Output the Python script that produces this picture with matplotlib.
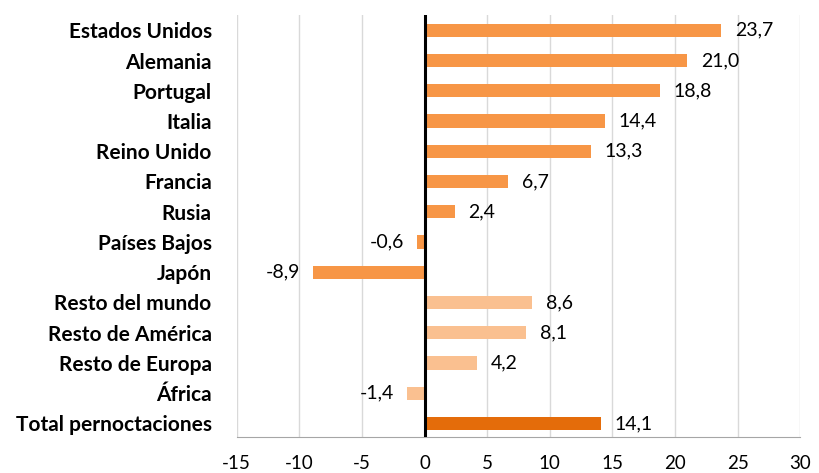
import matplotlib
matplotlib.use("Agg")
import matplotlib.pyplot as plt

plt.rcParams['font.family'] = ['Lato', 'DejaVu Sans']

paises = ['Estados Unidos', 'Alemania', 'Portugal', 'Italia', 'Reino Unido',
          'Francia', 'Rusia', 'Países Bajos', 'Japón', 'Resto del mundo',
          'Resto de América', 'Resto de Europa', 'África', 'Total pernoctaciones']
valores = [23.7, 21.0, 18.8, 14.4, 13.3, 6.7, 2.4, -0.6, -8.9, 8.6, 8.1, 4.2, -1.4, 14.1]
# tipo de barra: 0 pais, 1 resto, 2 total
grupo = [0, 0, 0, 0, 0, 0, 0, 0, 0, 1, 1, 1, 1, 2]
ticks_x = [-15, -10, -5, 0, 5, 10, 15, 20, 25, 30]

colores = {0: '#F79646', 1: '#FAC090', 2: '#E46C0A'}

fig = plt.figure(figsize=(8.19, 4.73), dpi=100)
ax = fig.add_axes([0.289, 0.076, 0.688, 0.892])

pos = list(range(len(paises)))
ax.barh(pos, valores, height=0.44, color=[colores[g] for g in grupo], zorder=3)

for y, v in zip(pos, valores):
    txt = f"{v:.1f}".replace('.', ',')
    if v >= 0:
        ax.text(v + 1.1, y, txt, va='center', ha='left', fontsize=14, color='black')
    else:
        ax.text(v - 1.0, y, txt, va='center', ha='right', fontsize=14, color='black')

ax.set_xlim(-15, 30)
ax.set_ylim(13.45, -0.5)
ax.set_xticks(ticks_x)
ax.set_xticklabels([str(t) for t in ticks_x], fontsize=13.5)
ax.set_yticks(pos)
ax.set_yticklabels(paises, fontsize=15, fontweight='bold')

ax.xaxis.grid(True, color='#D9D9D9', linewidth=1, zorder=0)
ax.axvline(0, color='black', linewidth=2.2, zorder=4)

for s in ['top', 'right', 'left']:
    ax.spines[s].set_visible(False)
ax.spines['bottom'].set_color('#A6A6A6')
ax.tick_params(axis='both', length=0)
ax.tick_params(axis='x', pad=13)
ax.tick_params(axis='y', pad=18)

fig.savefig('out.png', dpi=100)
